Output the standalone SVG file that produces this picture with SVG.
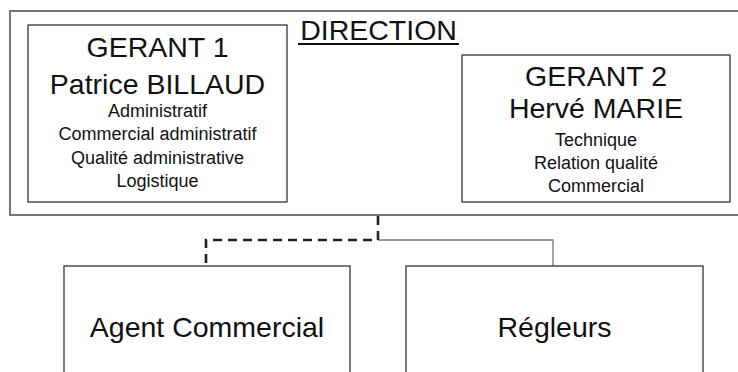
<svg xmlns="http://www.w3.org/2000/svg" width="738" height="372" viewBox="0 0 738 372">
  <style>
    .box { fill: #ffffff; stroke: #222222; stroke-width: 1.2; }
    .frame { fill: #ffffff; stroke: #555555; stroke-width: 1.6; }
    text { font-family: "Liberation Sans", Arial, sans-serif; fill: #111111; text-anchor: middle; }
    .big { font-size: 28.5px; }
    .small { font-size: 18px; }
    .solid { fill: none; stroke: #777777; stroke-width: 1.3; }
    .dash { fill: none; stroke: #222222; stroke-width: 2.6; stroke-dasharray: 9 6; }
  </style>

  <!-- management frame -->
  <g id="direction">
    <rect class="frame" x="10" y="11" width="740" height="204"/>
    <text class="big" x="378.5" y="40">DIRECTION</text>
    <line x1="298" y1="44" x2="459" y2="44" stroke="#111111" stroke-width="2"/>
  </g>

  <g id="gerant1">
    <rect class="box" x="28" y="25" width="259" height="177"/>
    <text class="big" x="157.5" y="57">GERANT 1</text>
    <text class="big" x="157.5" y="94">Patrice BILLAUD</text>
    <text class="small" x="157.5" y="117">Administratif</text>
    <text class="small" x="157.5" y="140">Commercial administratif</text>
    <text class="small" x="157.5" y="164">Qualité administrative</text>
    <text class="small" x="157.5" y="187">Logistique</text>
  </g>

  <g id="gerant2">
    <rect class="box" x="462" y="55" width="268" height="147"/>
    <text class="big" x="596" y="86">GERANT 2</text>
    <text class="big" x="596" y="118">Hervé MARIE</text>
    <text class="small" x="596" y="146">Technique</text>
    <text class="small" x="596" y="169">Relation qualité</text>
    <text class="small" x="596" y="192">Commercial</text>
  </g>

  <!-- links from management to staff -->
  <g id="connectors">
    <path class="solid" d="M378 240 H553 V266"/>
    <path class="dash" d="M378 216 V240 H206 V266"/>
  </g>

  <g id="agent">
    <rect class="box" x="64" y="266" width="286" height="120"/>
    <text class="big" x="207" y="337">Agent Commercial</text>
  </g>

  <g id="regleurs">
    <rect class="box" x="406" y="266" width="297" height="120"/>
    <text class="big" x="554.5" y="337">Régleurs</text>
  </g>
</svg>
